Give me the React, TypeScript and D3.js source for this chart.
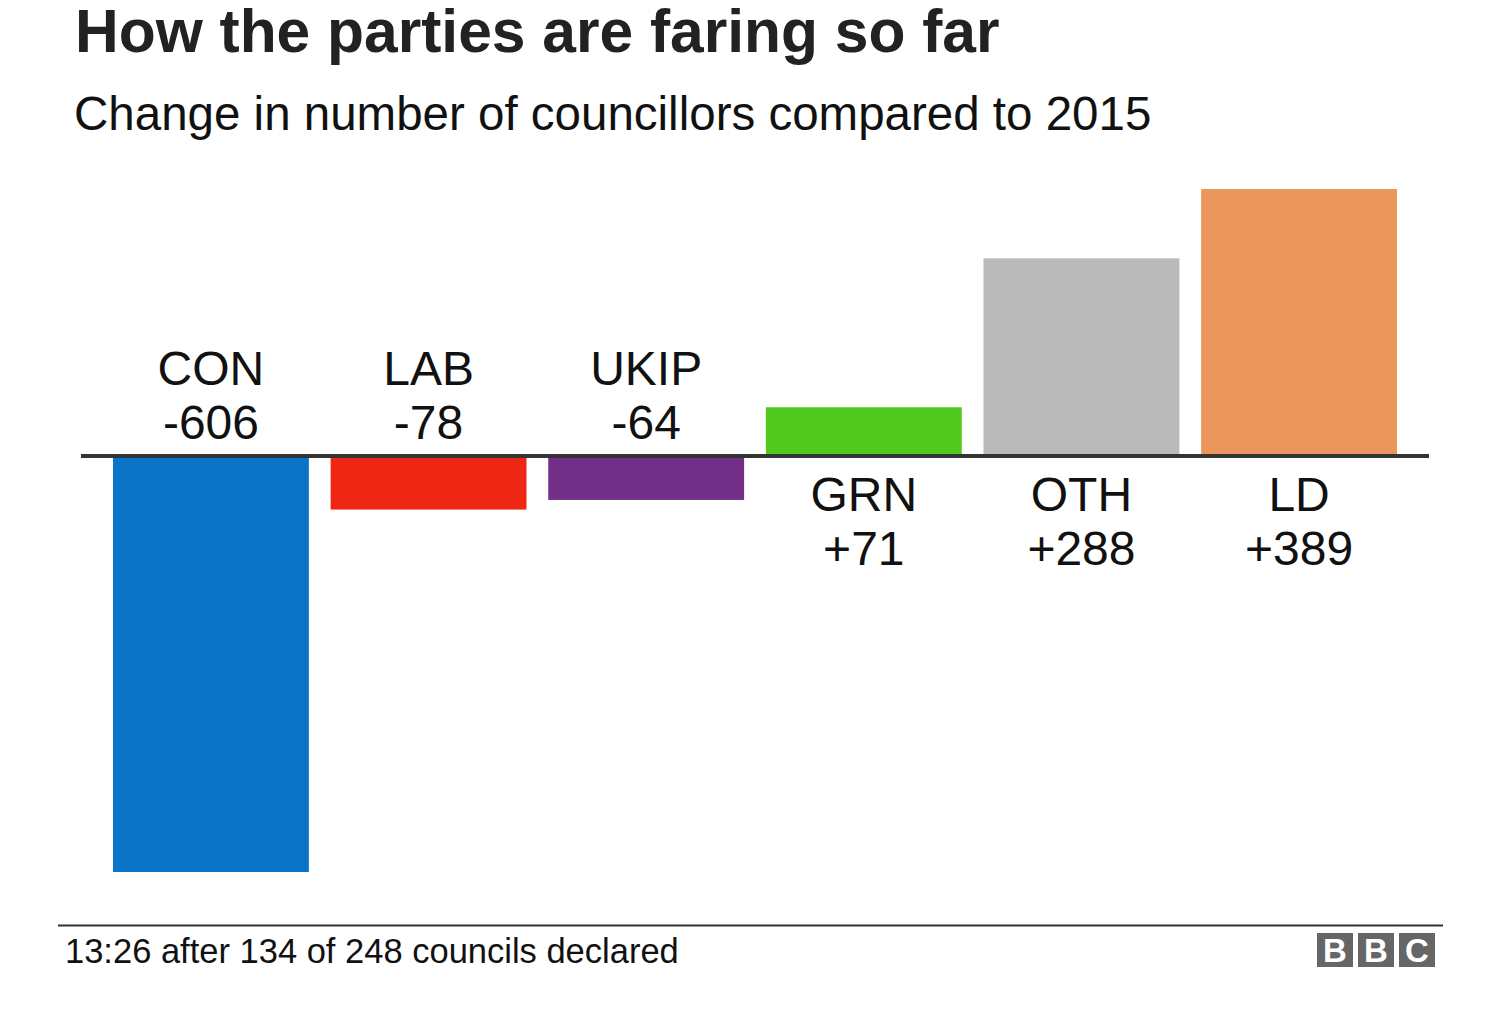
import * as d3 from 'd3';

const parties = ['CON', 'LAB', 'UKIP', 'GRN', 'OTH', 'LD'];
const changes = [-606, -78, -64, 71, 288, 389];
const partyColors = ['#0a74c9', '#ee2613', '#712f87', '#50c81e', '#bababa', '#ea965c'];

const title = 'How the parties are faring so far';
const subtitle = 'Change in number of councillors compared to 2015';
const footnote = '13:26 after 134 of 248 councils declared';

const font = '"Liberation Sans", Arial, Helvetica, sans-serif';

export default function App() {
  const width = 1507;
  const height = 1016;

  const x = d3.scaleBand<string>()
    .domain(parties)
    .range([113, 1397])
    .paddingInner(0.1)
    .paddingOuter(0);

  const y = d3.scaleLinear()
    .domain([d3.min(changes) as number, d3.max(changes) as number])
    .range([872, 189]);

  const zero = y(0);
  const fmt = (v: number) => (v > 0 ? `+${v}` : `${v}`);

  return (
    <div style={{ position: 'absolute', left: 0, top: 0 }}>
      <svg width={width} height={height} style={{ display: 'block', background: '#fff' }} fontFamily={font}>
        {/* Headings */}
        <text x={75} y={52} fontSize={60.5} fontWeight="bold" fill="#222">{title}</text>
        <text x={74} y={130} fontSize={47.5} fill="#111">{subtitle}</text>

        {/* Bars */}
        {parties.map((p, i) => {
          const v = changes[i];
          const top = Math.min(y(v), zero);
          const h = Math.abs(y(v) - zero);
          return (
            <rect key={p} x={x(p)} y={top} width={x.bandwidth()} height={h} fill={partyColors[i]} />
          );
        })}

        {/* Zero line */}
        <line x1={81} x2={1429} y1={zero} y2={zero} stroke="#333" strokeWidth={4} />

        {/* Labels */}
        {parties.map((p, i) => {
          const v = changes[i];
          const cx = (x(p) as number) + x.bandwidth() / 2;
          const base = v < 0 ? zero - 71 : zero + 55;
          return (
            <g key={p} fontSize={48} fill="#111" textAnchor="middle">
              <text x={cx} y={base}>{p}</text>
              <text x={cx} y={base + 54}>{fmt(v)}</text>
            </g>
          );
        })}

        {/* Footer */}
        <line x1={58} x2={1443} y1={925.5} y2={925.5} stroke="#333" strokeWidth={2} />
        <text x={65} y={963} fontSize={34.5} fill="#111">{footnote}</text>
        {['B', 'B', 'C'].map((l, i) => (
          <g key={i} transform={`translate(${1317 + i * 41},933)`}>
            <rect width={36} height={34} fill="#666" />
            <text x={18} y={29} textAnchor="middle" fontSize={33} fontWeight="bold" fill="#fff">{l}</text>
          </g>
        ))}
      </svg>
    </div>
  );
}
